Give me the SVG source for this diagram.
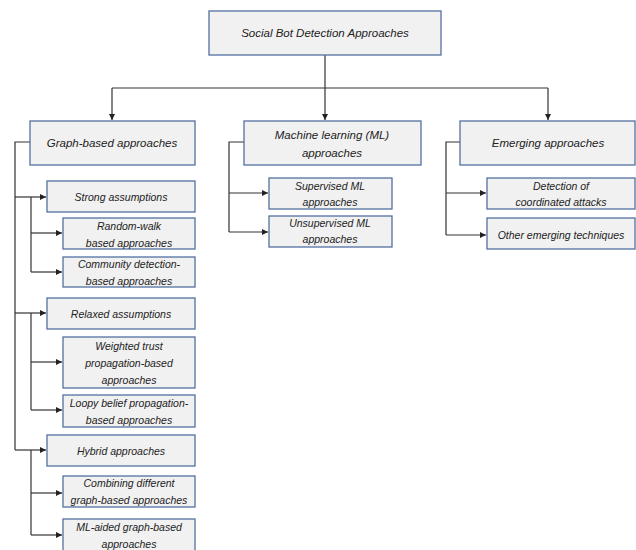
<svg xmlns="http://www.w3.org/2000/svg" width="636" height="550" viewBox="0 0 636 550">
<style>
.box{fill:#f1f1f1;stroke:#5470a0;stroke-width:1.3}
.t{font-family:"Liberation Sans",Arial,sans-serif;font-style:italic;fill:#222;text-anchor:middle}
.l1{font-size:11.5px}
.l2{font-size:10.5px}
.c{fill:none;stroke:#333;stroke-width:1.2}
</style>
<defs>
<marker id="a" viewBox="0 0 10 10" refX="10" refY="5" markerWidth="6" markerHeight="6" markerUnits="userSpaceOnUse" orient="auto">
<path d="M0,0 L10,5 L0,10 z" fill="#222"/>
</marker>
</defs>
<rect width="636" height="550" fill="#fff"/>
<g id="connectors">
<path class="c" d="M325,55 V88"/>
<path class="c" d="M112,88 H548"/>
<path class="c" d="M112,88 V120" marker-end="url(#a)"/>
<path class="c" d="M325,88 V120" marker-end="url(#a)"/>
<path class="c" d="M548,88 V120" marker-end="url(#a)"/>
<path class="c" d="M30,142 H15 V450"/>
<path class="c" d="M15,197 H46" marker-end="url(#a)"/>
<path class="c" d="M15,313 H46" marker-end="url(#a)"/>
<path class="c" d="M15,450 H46" marker-end="url(#a)"/>
<path class="c" d="M31,197 V272"/>
<path class="c" d="M31,233 H62" marker-end="url(#a)"/>
<path class="c" d="M31,272 H62" marker-end="url(#a)"/>
<path class="c" d="M31,313 V410"/>
<path class="c" d="M31,362 H62" marker-end="url(#a)"/>
<path class="c" d="M31,410 H62" marker-end="url(#a)"/>
<path class="c" d="M31,450 V535"/>
<path class="c" d="M31,493 H62" marker-end="url(#a)"/>
<path class="c" d="M31,535 H62" marker-end="url(#a)"/>
<path class="c" d="M244,142 H229 V232"/>
<path class="c" d="M229,193 H268" marker-end="url(#a)"/>
<path class="c" d="M229,232 H268" marker-end="url(#a)"/>
<path class="c" d="M460,142 H446 V235"/>
<path class="c" d="M446,193 H486" marker-end="url(#a)"/>
<path class="c" d="M446,235 H486" marker-end="url(#a)"/>
</g>
<g id="root"><rect class="box" x="209" y="11" width="232" height="44"/><text class="t l1" x="325" y="37">Social Bot Detection Approaches</text></g>
<g id="graph"><rect class="box" x="30" y="121" width="165" height="44"/><text class="t l1" x="112" y="147">Graph-based approaches</text></g>
<g id="ml"><rect class="box" x="244" y="121" width="177" height="44"/><text class="t l1" x="332" y="139">Machine learning (ML)</text><text class="t l1" x="332" y="157">approaches</text></g>
<g id="emerging"><rect class="box" x="460" y="121" width="175" height="44"/><text class="t l1" x="548" y="147">Emerging approaches</text></g>
<g id="strong"><rect class="box" x="47" y="181" width="148" height="31"/><text class="t l2" x="121" y="201">Strong assumptions</text></g>
<g id="randomwalk"><rect class="box" x="63" y="218" width="132" height="31"/><text class="t l2" x="129" y="230">Random-walk</text><text class="t l2" x="129" y="247">based approaches</text></g>
<g id="community"><rect class="box" x="63" y="257" width="132" height="30"/><text class="t l2" x="129" y="268">Community detection-</text><text class="t l2" x="129" y="285">based approaches</text></g>
<g id="relaxed"><rect class="box" x="47" y="298" width="148" height="31"/><text class="t l2" x="121" y="318">Relaxed assumptions</text></g>
<g id="weighted"><rect class="box" x="63" y="337" width="132" height="51"/><text class="t l2" x="129" y="350">Weighted trust</text><text class="t l2" x="129" y="367">propagation-based</text><text class="t l2" x="129" y="384">approaches</text></g>
<g id="loopy"><rect class="box" x="63" y="395" width="132" height="32"/><text class="t l2" x="129" y="407">Loopy belief propagation-</text><text class="t l2" x="129" y="424">based approaches</text></g>
<g id="hybrid"><rect class="box" x="47" y="435" width="148" height="31"/><text class="t l2" x="121" y="455">Hybrid approaches</text></g>
<g id="combining"><rect class="box" x="63" y="476" width="132" height="31"/><text class="t l2" x="129" y="487">Combining different</text><text class="t l2" x="129" y="504">graph-based approaches</text></g>
<g id="mlaided"><rect class="box" x="63" y="519" width="132" height="34"/><text class="t l2" x="129" y="531">ML-aided graph-based</text><text class="t l2" x="129" y="548">approaches</text></g>
<g id="supervised"><rect class="box" x="269" y="178" width="123" height="31"/><text class="t l2" x="330" y="190">Supervised ML</text><text class="t l2" x="330" y="206">approaches</text></g>
<g id="unsupervised"><rect class="box" x="269" y="216" width="123" height="31"/><text class="t l2" x="330" y="227">Unsupervised ML</text><text class="t l2" x="330" y="243">approaches</text></g>
<g id="coordinated"><rect class="box" x="487" y="178" width="148" height="31"/><text class="t l2" x="561" y="190">Detection of</text><text class="t l2" x="561" y="206">coordinated attacks</text></g>
<g id="other"><rect class="box" x="487" y="218" width="148" height="31"/><text class="t l2" x="561" y="239">Other emerging techniques</text></g>
</svg>
